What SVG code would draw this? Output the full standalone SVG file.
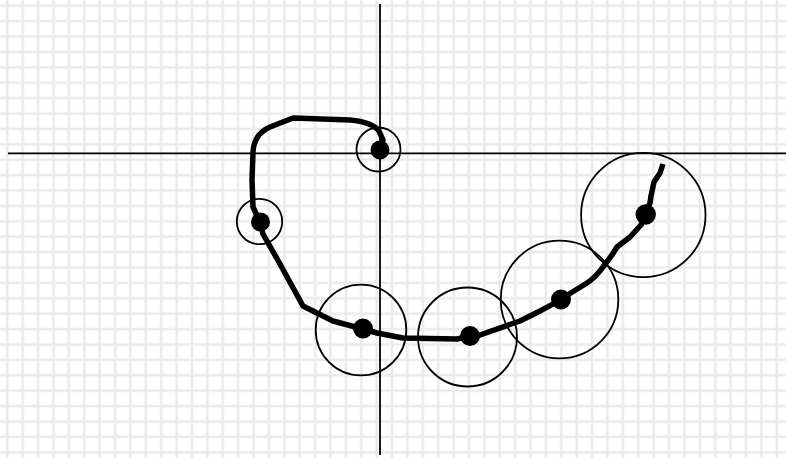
<svg xmlns="http://www.w3.org/2000/svg" width="786" height="458" viewBox="0 0 786 458">
  <defs>
    <pattern id="grid" patternUnits="userSpaceOnUse" x="-0.4" y="-2" width="15.39" height="15.4">
      <line x1="7.7" y1="0" x2="7.7" y2="15.4" stroke="#eaeaea" stroke-width="2.5"/>
      <line x1="0" y1="7.7" x2="15.39" y2="7.7" stroke="#eaeaea" stroke-width="2.5"/>
    </pattern>
  </defs>
  <style>
    .axis { stroke: #000; stroke-width: 1.8; fill: none; }
    .ring { stroke: #000; stroke-width: 1.8; fill: none; }
    .dot { fill: #000; }
    .curve { stroke: #000; stroke-width: 5.5; fill: none; stroke-linejoin: round; stroke-linecap: butt; }
  </style>
  <rect x="0" y="0" width="786" height="458" fill="#fff"/>
  <rect x="0" y="0" width="786" height="458" fill="url(#grid)"/>
  <g id="axes">
    <line class="axis" x1="380" y1="4" x2="380" y2="455"/>
    <line class="axis" x1="8" y1="153.3" x2="786" y2="153.3"/>
  </g>
  <g id="connectors">
    <path class="curve" d="M663,164 L660,173 L654,182 L651,196 L650,203 L646,214 L641,225 L630,237 L617,247 L612,255 L603,267 Q596,277 587,283 L561,299 Q550,306 540,311 L520,321 L480,335 L470,336 L457,339 L403,338 L377,333 L363,329 L333,321 L303,306 L280,264 L263,234 L260,222 L253,207 L252,180 L253,152 Q254,134 270,127 L293,118 L350,120 Q372,122 379,131 L383,140 L380,150"/>
  </g>
  <g id="p1"><circle class="ring" cx="378.5" cy="149.5" r="22"/><circle class="dot" cx="380" cy="150" r="9.5"/></g>
  <g id="p2"><circle class="ring" cx="259.5" cy="221.5" r="22.7"/><circle class="dot" cx="260.5" cy="222" r="9.5"/></g>
  <g id="p3"><circle class="ring" cx="361" cy="330" r="45.3"/><circle class="dot" cx="363" cy="328.5" r="10"/></g>
  <g id="p4"><circle class="ring" cx="467.5" cy="337" r="49.5"/><circle class="dot" cx="470" cy="336" r="10"/></g>
  <g id="p5"><circle class="ring" cx="559.5" cy="299.5" r="58.8"/><circle class="dot" cx="561" cy="299.5" r="10"/></g>
  <g id="p6"><circle class="ring" cx="643.3" cy="215" r="62.2"/><circle class="dot" cx="645.7" cy="214.5" r="10.2"/></g>
</svg>
